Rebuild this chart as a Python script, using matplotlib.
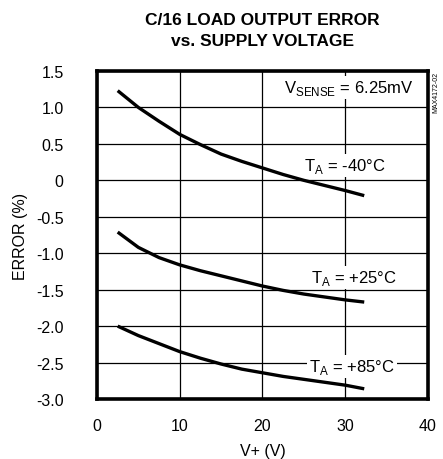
import matplotlib
matplotlib.use("Agg")
import matplotlib.pyplot as plt

# supply voltage (V) and error (%)
v_plus = [2.5, 5, 7.5, 10, 12.5, 15, 17.5, 20, 22.5, 25, 27.5, 30, 32.3]
err_m40 = [1.23, 1.00, 0.81, 0.63, 0.49, 0.36, 0.26, 0.17, 0.08, 0.00, -0.07, -0.14, -0.21]
err_p25 = [-0.71, -0.92, -1.06, -1.16, -1.24, -1.31, -1.38, -1.45, -1.51, -1.56, -1.60, -1.64, -1.67]
err_p85 = [-2.00, -2.13, -2.24, -2.35, -2.44, -2.52, -2.59, -2.64, -2.69, -2.73, -2.77, -2.81, -2.86]

x_ticks = [0, 10, 20, 30, 40]
y_ticks = [1.5, 1.0, 0.5, 0, -0.5, -1.0, -1.5, -2.0, -2.5, -3.0]
y_tick_labels = ["1.5", "1.0", "0.5", "0", "-0.5", "-1.0", "-1.5", "-2.0", "-2.5", "-3.0"]

fam = "Liberation Sans"
plt.rcParams['font.family'] = [fam, 'DejaVu Sans']
plt.rcParams['mathtext.fontset'] = 'custom'
plt.rcParams['mathtext.rm'] = fam

fig = plt.figure(figsize=(4.43, 4.60), dpi=100)
ax = fig.add_axes([0.219, 0.1304, 0.747, 0.7131])

for ys in (err_m40, err_p25, err_p85):
    ax.plot(v_plus, ys, color='black', lw=2.4, solid_capstyle='butt', zorder=3)

ax.set_xlim(0, 40)
ax.set_ylim(-3.0, 1.5)
ax.set_xticks(x_ticks)
ax.set_yticks(y_ticks)
ax.set_yticklabels(y_tick_labels)
ax.grid(True, color='black', lw=0.9)
ax.tick_params(length=0, labelsize=11.5)
ax.tick_params(axis='y', pad=24)
ax.tick_params(axis='x', pad=14)
for s in ax.spines.values():
    s.set_linewidth(2.6)

ax.set_xlabel("V+ (V)", fontsize=11.5, labelpad=7)
ax.set_ylabel("ERROR (%)", fontsize=11.5, labelpad=6)

bbox = dict(facecolor='white', edgecolor='none', pad=1.5)
ax.text(38.2, 1.28, r"V$_{\rm SENSE}$ = 6.25mV", fontsize=12, ha='right', va='center', bbox=bbox, zorder=4)
ax.text(29.9, 0.20, r"T$_{\rm A}$ = -40°C", fontsize=12, ha='center', va='center', bbox=bbox, zorder=4)
ax.text(31.1, -1.33, r"T$_{\rm A}$ = +25°C", fontsize=12, ha='center', va='center', bbox=bbox, zorder=4)
ax.text(30.8, -2.56, r"T$_{\rm A}$ = +85°C", fontsize=12, ha='center', va='center', bbox=bbox, zorder=4)

fig.text(0.592, 0.933, "C/16 LOAD OUTPUT ERROR\nvs. SUPPLY VOLTAGE", fontsize=12.5, fontweight='bold',
         ha='center', va='center', linespacing=1.55)
fig.text(0.983, 0.80, "MAX4172-02", fontsize=5, rotation=90, ha='center', va='center')

fig.savefig("out.png", dpi=100)
